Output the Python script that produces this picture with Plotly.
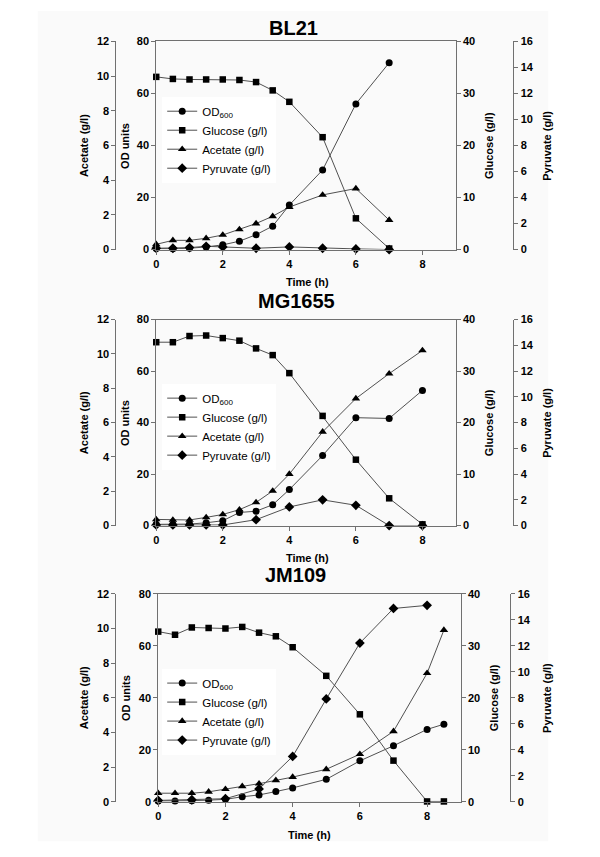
import plotly.graph_objects as go

# ---------------- data ----------------
bl21_time = [0, 0.5, 1, 1.5, 2, 2.5, 3, 3.5, 4, 5, 6, 7]
bl21_od = [0.4, 0.3, 0.5, 1.0, 1.8, 3.2, 5.7, 9.0, 17.1, 30.6, 56.0, 71.8]
bl21_glucose = [33.2, 32.8, 32.7, 32.7, 32.7, 32.6, 32.2, 30.6, 28.4, 21.6, 6.0, 0.2]
bl21_acetate = [0.30, 0.53, 0.53, 0.65, 0.84, 1.16, 1.50, 1.92, 2.45, 3.15, 3.52, 1.70]
bl21_pyr_time = [0, 0.5, 1, 1.5, 2, 3, 4, 5, 6, 7]
bl21_pyruvate = [0.1, 0.1, 0.15, 0.25, 0.2, 0.1, 0.2, 0.1, 0.05, 0.0]

mg_time = [0, 0.5, 1, 1.5, 2, 2.5, 3, 3.5, 4, 5, 6, 7, 8]
mg_od = [0.5, 0.5, 0.6, 1.1, 1.9, 5.1, 5.6, 8.1, 14.0, 27.2, 41.9, 41.6, 52.5]
mg_glucose = [35.6, 35.6, 36.8, 36.9, 36.4, 35.9, 34.4, 33.1, 29.6, 21.3, 12.8, 5.3, 0.25]
mg_acetate = [0.36, 0.33, 0.33, 0.48, 0.65, 0.93, 1.35, 2.02, 3.0, 5.46, 7.40, 8.85, 10.2]
mg_pyr_time = [0, 0.5, 1, 1.5, 2, 3, 4, 5, 6, 7, 8]
mg_pyruvate = [0.05, 0.05, 0.05, 0.05, 0.05, 0.46, 1.45, 2.0, 1.58, 0.0, 0.0]

jm_time = [0, 0.5, 1, 1.5, 2, 2.5, 3, 3.5, 4, 5, 6, 7, 8, 8.5]
jm_od = [0.3, 0.3, 0.4, 0.6, 0.9, 1.9, 2.6, 3.9, 5.3, 8.6, 15.7, 21.5, 27.8, 29.8]
jm_glucose = [32.7, 32.1, 33.5, 33.4, 33.3, 33.6, 32.5, 31.8, 29.7, 24.2, 16.8, 7.9, 0.05, 0.05]
jm_acetate = [0.49, 0.49, 0.49, 0.57, 0.72, 0.89, 1.04, 1.23, 1.42, 1.87, 2.74, 4.06, 7.41, 9.9]
jm_pyr_time = [0, 1, 2, 3, 4, 5, 6, 7, 8]
jm_pyruvate = [0.1, 0.15, 0.23, 0.98, 3.48, 7.9, 12.2, 14.86, 15.1]

panel_titles = ["BL21", "MG1655", "JM109"]
series_names = ["OD<sub>600</sub>", "Glucose (g/l)", "Acetate (g/l)", "Pyruvate (g/l)"]
x_ticks = [0, 2, 4, 6, 8]

panels = [
    dict(time=bl21_time, od=bl21_od, glc=bl21_glucose, ace=bl21_acetate,
         ptime=bl21_pyr_time, pyr=bl21_pyruvate),
    dict(time=mg_time, od=mg_od, glc=mg_glucose, ace=mg_acetate,
         ptime=mg_pyr_time, pyr=mg_pyruvate),
    dict(time=jm_time, od=jm_od, glc=jm_glucose, ace=jm_acetate,
         ptime=jm_pyr_time, pyr=jm_pyruvate),
]

# ---------------- layout geometry (pixels) ----------------
W, H = 600, 857
def px(x): return x / W
def py(y): return 1 - y / H

geom = [
    dict(left=154, right=455, top=36, bottom=247, ace=113, pyr=513, title_y=22, title_x=292,
         time_y=280, time_x=306, glc_t=488, pyr_t=546, ace_t=81, od_t=122, leg_y=92),
    dict(left=154, right=455, top=318, bottom=527, ace=113, pyr=513, title_y=299, title_x=295,
         time_y=560, time_x=306, glc_t=488, pyr_t=546, ace_t=81, od_t=122, leg_y=383),
    dict(left=156, right=460, top=596, bottom=807, ace=113, pyr=510, title_y=577, title_x=294,
         time_y=841, time_x=308, glc_t=493, pyr_t=546, ace_t=81, od_t=123, leg_y=672),
]

FONT = "Liberation Sans, Arial, sans-serif"
AXC = "#707070"
LINEC = "#505050"
tickfont = dict(family=FONT, size=11, color="black", weight="bold")

fig = go.Figure()
layout = dict(width=W, height=H, margin=dict(l=0, r=0, t=0, b=0),
              paper_bgcolor="white", plot_bgcolor="rgba(0,0,0,0)",
              showlegend=True, annotations=[], shapes=[])

layout["shapes"].append(dict(type="rect", xref="paper", yref="paper",
                             x0=px(35), x1=px(548), y0=py(847), y1=py(5),
                             fillcolor="#fafafa", line=dict(width=0), layer="below"))

for i, (p, g) in enumerate(zip(panels, geom)):
    xi = "" if i == 0 else str(i + 1)
    xname = "x" + xi
    base = 4 * i
    yn = [("y" + ("" if base + k == 0 else str(base + k + 1))) for k in range(4)]
    leg = "legend" if i == 0 else "legend" + str(i + 1)
    ydom = [py(g["bottom"]), py(g["top"])]

    layout["xaxis" + xi] = dict(domain=[px(g["left"]), px(g["right"])], anchor=yn[0],
                                range=[0, 9], tickvals=x_ticks, ticks="outside", ticklen=4,
                                tickcolor=AXC, showline=True, linecolor=AXC, linewidth=1,
                                mirror=True, showgrid=False, zeroline=False, tickfont=tickfont)
    common = dict(showgrid=False, zeroline=False, showline=True, linecolor=AXC, linewidth=1,
                  ticks="outside", ticklen=4, tickcolor=AXC, tickfont=tickfont)
    layout["yaxis" + yn[0][1:]] = dict(domain=ydom, anchor=xname, range=[0, 80], dtick=20,
                                        side="left", **common)
    layout["yaxis" + yn[1][1:]] = dict(anchor=xname, overlaying=yn[0], range=[0, 40], dtick=10,
                                        side="right", **common)
    layout["yaxis" + yn[2][1:]] = dict(anchor="free", position=px(g["ace"]), overlaying=yn[0],
                                        range=[0, 12], dtick=2, side="left", **common)
    layout["yaxis" + yn[3][1:]] = dict(anchor="free", position=px(g["pyr"]), overlaying=yn[0],
                                        range=[0, 16], dtick=2, side="right", **common)

    line = dict(color=LINEC, width=1)
    mk = lambda s, sz: dict(symbol=s, size=sz, color="black", line=dict(width=0))
    fig.add_trace(go.Scatter(x=p["time"], y=p["od"], xaxis=xname, yaxis=yn[0], name=series_names[0],
                             mode="lines+markers", line=line, marker=mk("circle", 7),
                             cliponaxis=False, legend=leg))
    fig.add_trace(go.Scatter(x=p["time"], y=p["glc"], xaxis=xname, yaxis=yn[1], name=series_names[1],
                             mode="lines+markers", line=line, marker=mk("square", 6.5),
                             cliponaxis=False, legend=leg))
    fig.add_trace(go.Scatter(x=p["time"], y=p["ace"], xaxis=xname, yaxis=yn[2], name=series_names[2],
                             mode="lines+markers", line=line, marker=mk("triangle-up", 7.5),
                             cliponaxis=False, legend=leg))
    fig.add_trace(go.Scatter(x=p["ptime"], y=p["pyr"], xaxis=xname, yaxis=yn[3], name=series_names[3],
                             mode="lines+markers", line=line, marker=mk("diamond", 7.5),
                             cliponaxis=False, legend=leg))

    layout[leg] = dict(x=px(160), y=py(g["leg_y"]), xanchor="left", yanchor="top",
                       bgcolor="white", borderwidth=0, tracegroupgap=0,
                       font=dict(family=FONT, size=11.5, color="black"), itemwidth=30)

    ycen = py((g["top"] + g["bottom"]) / 2)
    ann = layout["annotations"]
    ann.append(dict(text=panel_titles[i], x=px(g["title_x"]), y=py(g["title_y"]), xref="paper",
                    yref="paper", showarrow=False, xanchor="center", yanchor="middle",
                    font=dict(family=FONT, size=20, color="black", weight="bold")))
    ann.append(dict(text="Time (h)", x=px(g["time_x"]), y=py(g["time_y"]), xref="paper",
                    yref="paper", showarrow=False, xanchor="center", yanchor="middle",
                    font=dict(family=FONT, size=11, color="black", weight="bold")))
    for txt, xx in [("Acetate (g/l)", g["ace_t"]), ("OD units", g["od_t"]),
                    ("Glucose (g/l)", g["glc_t"]), ("Pyruvate (g/l)", g["pyr_t"])]:
        ann.append(dict(text=txt, x=px(xx), y=ycen, xref="paper", yref="paper", showarrow=False,
                        textangle=-90, xanchor="center", yanchor="middle",
                        font=dict(family=FONT, size=11, color="black", weight="bold")))

fig.update_layout(**layout)
fig.write_html("out.html", config={"displayModeBar": False},
               post_script="document.body.style.margin='0';document.body.style.padding='0';")
